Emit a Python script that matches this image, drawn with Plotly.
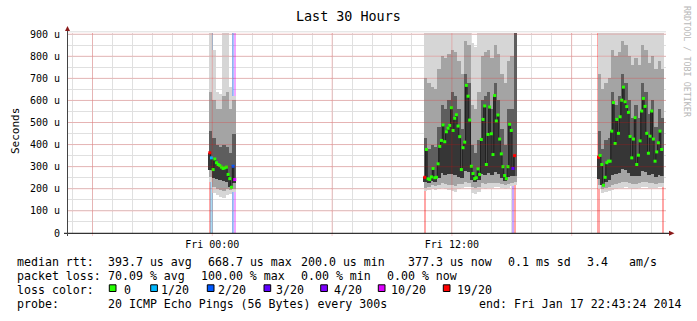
import plotly.graph_objects as go

# ---------------- data ----------------
title_text = "Last 30 Hours"
x_start_h = -7.2767   # Thu 16:43:24, hours relative to Fri 00:00
x_end_h = 22.7233     # Fri 22:43:24
step_h = 5 / 60       # one ping round = 300 s

major_x = [-6, 0, 6, 12, 18]
major_x_text = ["", "Fri 00:00", "", "Fri 12:00", ""]
y_ticks = [0, 100, 200, 300, 400, 500, 600, 700, 800, 900]
y_tick_text = ["0", "100 u", "200 u", "300 u", "400 u", "500 u", "600 u", "700 u", "800 u", "900 u"]

block_start_h = [-0.1667, 10.6, 19.3]

# median rtt (us) per 5-minute step
med1 = [363, 340, 287, 335, 318, 310, 305, 298, 292, 295, 298, 265, 246, 207, 302, 242]
med2 = [252, 378, 245, 242, 254, 292, 250, 252, 313, 392, 419, 489, 413, 458, 474, 487,
        567, 464, 519, 535, 484, 436, 287, 386, 411, 668, 619, 511, 302, 269, 246, 250,
        290, 265, 423, 514, 575, 310, 446, 570, 449, 355, 622, 507, 534, 425, 358, 300,
        260, 246, 300, 492, 464, 292, 350]
med3 = [343, 351, 310, 216, 252, 318, 325, 325, 461, 590, 405, 514, 451, 526, 601, 660,
        594, 572, 546, 437, 340, 425, 522, 310, 352, 417, 552, 609, 573, 451, 361, 438,
        552, 425, 325, 367, 408, 461, 378, None]

# lost pings (of 20) per step
loss1 = [19, 1, 0, 0, 0, 0, 0, 0, 0, 0, 0, 0, 0, 0, 2, 10]
loss2 = [19, 0, 0, 0, 0, 0, 0, 0, 0, 0, 0, 0, 0, 0, 0, 0, 0, 0, 0, 0, 0, 0, 0, 0, 0, 0, 0,
         0, 0, 0, 0, 0, 0, 0, 0, 0, 0, 0, 0, 0, 0, 0, 0, 0, 0, 0, 0, 0, 0, 0, 0, 0, 0, 3, 19]
loss3 = [19, 0, 0, 0, 0, 0, 0, 0, 0, 0, 0, 0, 0, 0, 0, 0, 0, 0, 0, 0, 0, 0, 0, 0, 0, 0, 0,
         0, 0, 0, 0, 0, 0, 0, 0, 0, 0, 0, 0, 19]

# smoke (ping distribution) per 10-minute column: min, p10, q1, q3, p90, max
s1_lo = [230, 180, 170, 165, 160, 170, 175, 185]
s1_p10 = [255, 210, 200, 195, 190, 198, 195, 200]
s1_q1 = [285, 250, 245, 240, 235, 230, 210, 225]
s1_q3 = [460, 430, 400, 390, 400, 390, 360, 450]
s1_p90 = [640, 600, 560, 560, 620, 640, 560, 600]
s1_hi = [1000, 830, 640, 630, 1000, 1000, 660, 620]

s2_lo = [190, 195, 200, 195, 200, 205, 200, 195, 190, 185, 200, 205, 210, 208,
         180, 175, 185, 205, 200, 205, 205, 210, 208, 205, 200, 205, 212, 215]
s2_p10 = [205, 208, 215, 212, 218, 225, 220, 218, 215, 212, 220, 222, 230, 228,
          210, 205, 210, 225, 222, 225, 225, 228, 226, 220, 215, 222, 228, 230]
s2_q1 = [230, 225, 235, 232, 250, 270, 262, 268, 265, 262, 255, 248, 280, 275,
         238, 230, 238, 268, 262, 270, 262, 278, 268, 248, 235, 252, 258, 260]
s2_q3 = [430, 380, 400, 390, 480, 580, 560, 600, 640, 620, 560, 470, 720, 680,
         400, 360, 420, 600, 620, 640, 560, 680, 600, 470, 400, 560, 560, 1000]
s2_p90 = [700, 680, 660, 650, 740, 800, 790, 810, 830, 820, 780, 720, 870, 850,
          580, 560, 640, 800, 820, 830, 790, 850, 810, 720, 680, 780, 800, 1000]
s2_hi = [1000, 1000, 1000, 1000, 1000, 1000, 1000, 1000, 1000, 1000, 1000, 1000, 1000, 1000,
         860, 840, 920, 1000, 1000, 1000, 1000, 1000, 1000, 1000, 1000, 1000, 1000, 1000]

s3_lo = [200, 180, 185, 190, 195, 200, 205, 205, 210, 205, 200, 200, 205, 210, 210, 205, 205, 205, 210, 210]
s3_p10 = [215, 198, 205, 210, 218, 220, 225, 230, 230, 225, 220, 220, 225, 230, 230, 225, 225, 220, 225, 225]
s3_q1 = [245, 215, 230, 240, 262, 265, 272, 290, 285, 270, 258, 260, 258, 282, 275, 262, 268, 255, 262, 260]
s3_q3 = [460, 380, 420, 430, 640, 580, 620, 720, 680, 600, 520, 580, 520, 680, 640, 540, 600, 480, 560, 520]
s3_p90 = [720, 650, 680, 700, 830, 800, 820, 870, 850, 800, 760, 790, 760, 850, 830, 770, 800, 740, 780, 740]
s3_hi = [1000, 1000, 1000, 1000, 1000, 1000, 1000, 1000, 1000, 1000, 1000, 1000, 1000, 1000, 1000, 1000, 1000, 1000, 1000, 960]

loss_levels = [0, 1, 2, 3, 4, 10, 19]
loss_labels = ["0", "1/20", "2/20", "3/20", "4/20", "10/20", "19/20"]
loss_colors = ["#26ff00", "#00b8ff", "#0059ff", "#5e00ff", "#7e00ff", "#dd00ff", "#ff0000"]

legend_lines = [
    [("median rtt:", 16), ("393.7 us avg", 106.5), ("668.7 us max", 206.5), ("200.0 us min", 299.5),
     ("377.3 us now", 406.5), ("0.1 ms sd", 506.5), ("3.4", 585.5), ("am/s", 627.5)],
    [("packet loss:", 16), ("70.09 % avg", 106.5), ("100.00 % max", 199.5), ("0.00 % min", 299.5),
     ("0.00 % now", 385.5)],
    [("loss color:", 16)],
    [("probe:", 16), ("20 ICMP Echo Pings (56 Bytes) every 300s", 106.5),
     ("end: Fri Jan 17 22:43:24 2014", 477.5)],
]
legend_box_x = [109.3, 150.7, 207.3, 264, 320.7, 378.3, 443.3]
legend_text_x = [122.5, 159.5, 216.5, 275, 332.5, 390.5, 456]

# ---------------- layout geometry ----------------
W, H = 697, 321
L, R, T, B = 67, 31, 33, 88
PW, PH = W - L - R, H - T - B
FONT = "DejaVu Sans Mono"


def px(xp):
    return (xp - L) / PW


def py(yp):
    return (T + PH - yp) / PH


color_of = dict(zip(loss_levels, loss_colors))


def rgba(hexc, a):
    h = hexc.lstrip("#")
    return "rgba(%d,%d,%d,%.2f)" % (int(h[0:2], 16), int(h[2:4], 16), int(h[4:6], 16), a)


fig = go.Figure()

blocks = [
    (med1, loss1, [s1_lo, s1_p10, s1_q1, s1_q3, s1_p90, s1_hi]),
    (med2, loss2, [s2_lo, s2_p10, s2_q1, s2_q3, s2_p90, s2_hi]),
    (med3, loss3, [s3_lo, s3_p10, s3_q1, s3_q3, s3_p90, s3_hi]),
]

# loss strips (behind smoke)
for (med, loss, smoke), t0 in zip(blocks, block_start_h):
    xs = [t0 + (i + 0.5) * step_h for i in range(len(med))]
    sx = [x for x, l in zip(xs, loss) if l > 0]
    sc = [rgba(color_of[l], 0.35) for l in loss if l > 0]
    if sx:
        fig.add_trace(go.Bar(x=sx, y=[1000] * len(sx), base=0, width=step_h * 1.3,
                             marker=dict(color=sc, line=dict(width=0)),
                             hoverinfo="skip", showlegend=False))

# smoke
band_colors = ["#d6d6d6", "#a4a4a4", "#5e5e5e"]
for (med, loss, smoke), t0 in zip(blocks, block_start_h):
    lo, p10, q1, q3, p90, hi = smoke
    cx = [t0 + (c + 0.5) * 2 * step_h for c in range(len(lo))]
    for (a, b), col in zip([(lo, hi), (p10, p90), (q1, q3)], band_colors):
        fig.add_trace(go.Bar(x=cx, base=a, y=[bb - aa for aa, bb in zip(a, b)],
                             width=2 * step_h, marker=dict(color=col, line=dict(width=0)),
                             hoverinfo="skip", showlegend=False))
    # darkest core: from the lower quartile of the column up to the step's median
    xs = [t0 + (i + 0.5) * step_h for i in range(len(med)) if med[i] is not None]
    base_core = [q1[i // 2] for i in range(len(med)) if med[i] is not None]
    top_core = [m for m in med if m is not None]
    fig.add_trace(go.Bar(x=xs, base=base_core, y=[t - b for t, b in zip(top_core, base_core)],
                         width=step_h, marker=dict(color="#363636", line=dict(width=0)),
                         hoverinfo="skip", showlegend=False))

# median line + loss-coloured points
for (med, loss, smoke), t0 in zip(blocks, block_start_h):
    xs = [t0 + (i + 0.5) * step_h for i in range(len(med))]
    fig.add_trace(go.Scatter(x=xs, y=med, mode="lines", line=dict(color="#1c1c1c", width=0.8, shape="hvh"),
                             hoverinfo="skip", showlegend=False))
    fig.add_trace(go.Scatter(x=xs, y=med, mode="markers",
                             marker=dict(symbol="square", size=3, color=[color_of[l] for l in loss],
                                         line=dict(width=0)),
                             hoverinfo="skip", showlegend=False))

shapes = []
# major red grid above the data
for v in major_x:
    shapes.append(dict(type="line", xref="x", yref="paper", x0=v, x1=v, y0=-3 / PH, y1=1,
                       line=dict(color="rgba(255,0,0,0.2)", width=1), layer="above"))
for v in y_ticks[1:]:
    shapes.append(dict(type="line", xref="paper", yref="y", x0=0, x1=1, y0=v, y1=v,
                       line=dict(color="rgba(255,0,0,0.2)", width=1), layer="above"))
# top border
shapes.append(dict(type="line", xref="paper", yref="paper", x0=0, x1=1, y0=1.006, y1=1.006,
                   line=dict(color="#dddddd", width=1), layer="below"))
# axes with arrows
shapes.append(dict(type="line", xref="paper", yref="paper", x0=px(64), x1=px(671), y0=py(233.3), y1=py(233.3),
                   line=dict(color="#000000", width=1), layer="above"))
shapes.append(dict(type="line", xref="paper", yref="paper", x0=px(67.5), x1=px(67.5), y0=py(236), y1=py(29),
                   line=dict(color="#444444", width=1), layer="above"))
shapes.append(dict(type="path", xref="paper", yref="paper",
                   path="M %f %f L %f %f L %f %f Z" % (px(669), py(230.8), px(674.5), py(233.3), px(669), py(235.8)),
                   fillcolor="#8b1a1a", line=dict(width=0), layer="above"))
shapes.append(dict(type="path", xref="paper", yref="paper",
                   path="M %f %f L %f %f L %f %f Z" % (px(65), py(31), px(67.5), py(26), px(70), py(31)),
                   fillcolor="#8b1a1a", line=dict(width=0), layer="above"))
# legend colour boxes
for x0, col in zip(legend_box_x, loss_colors):
    shapes.append(dict(type="rect", xref="paper", yref="paper", x0=px(x0), x1=px(x0 + 6.7),
                       y0=py(291.5), y1=py(284.8), fillcolor=col, line=dict(color="#000000", width=1)))

ann = []
ann.append(dict(text=title_text, x=px(348.7), y=py(16), xref="paper", yref="paper", showarrow=False,
                xanchor="center", yanchor="middle", font=dict(size=13.4, color="#000")))
ann.append(dict(text="Seconds", x=px(15), y=py(131), xref="paper", yref="paper", showarrow=False,
                textangle=-90, xanchor="center", yanchor="middle", font=dict(size=11, color="#000")))
ann.append(dict(text="RRDTOOL / TOBI OETIKER", x=px(687), y=py(62), xref="paper", yref="paper",
                showarrow=False, textangle=90, xanchor="center", yanchor="middle",
                font=dict(size=8.4, color="#b8b8b8")))
row_y = [261.5, 275.5, 289.5, 303.5]
for line, yy in zip(legend_lines, row_y):
    for txt, xx in line:
        ann.append(dict(text=txt, x=px(xx), y=py(yy), xref="paper", yref="paper", showarrow=False,
                        xanchor="left", yanchor="middle", borderpad=0, font=dict(size=11.6, color="#000")))
for txt, xx in zip(loss_labels, legend_text_x):
    ann.append(dict(text=txt, x=px(xx), y=py(289.5), xref="paper", yref="paper", showarrow=False,
                    xanchor="left", yanchor="middle", borderpad=0, font=dict(size=11.6, color="#000")))

fig.update_layout(
    width=W, height=H, margin=dict(l=L, r=R, t=T, b=B, pad=0),
    paper_bgcolor="#ffffff", plot_bgcolor="#ffffff",
    font=dict(family=FONT, size=10, color="#000"),
    barmode="overlay", bargap=0, showlegend=False,
    shapes=shapes, annotations=ann,
    xaxis=dict(range=[x_start_h, x_end_h], tickvals=major_x, ticktext=major_x_text,
               showgrid=False, zeroline=False, showline=False, ticks="",
               ticklabelstandoff=4, tickfont=dict(size=10),
               minor=dict(dtick=1, tick0=0, showgrid=True, gridcolor="#e0e0e0", gridwidth=1)),
    yaxis=dict(range=[0, 905], tickvals=y_ticks, ticktext=y_tick_text,
               showgrid=False, zeroline=False, showline=False, ticks="",
               ticklabelstandoff=6, tickfont=dict(size=10),
               minor=dict(dtick=50, tick0=0, showgrid=True, gridcolor="#e0e0e0", gridwidth=1)),
)

fig.write_html("out.html")
